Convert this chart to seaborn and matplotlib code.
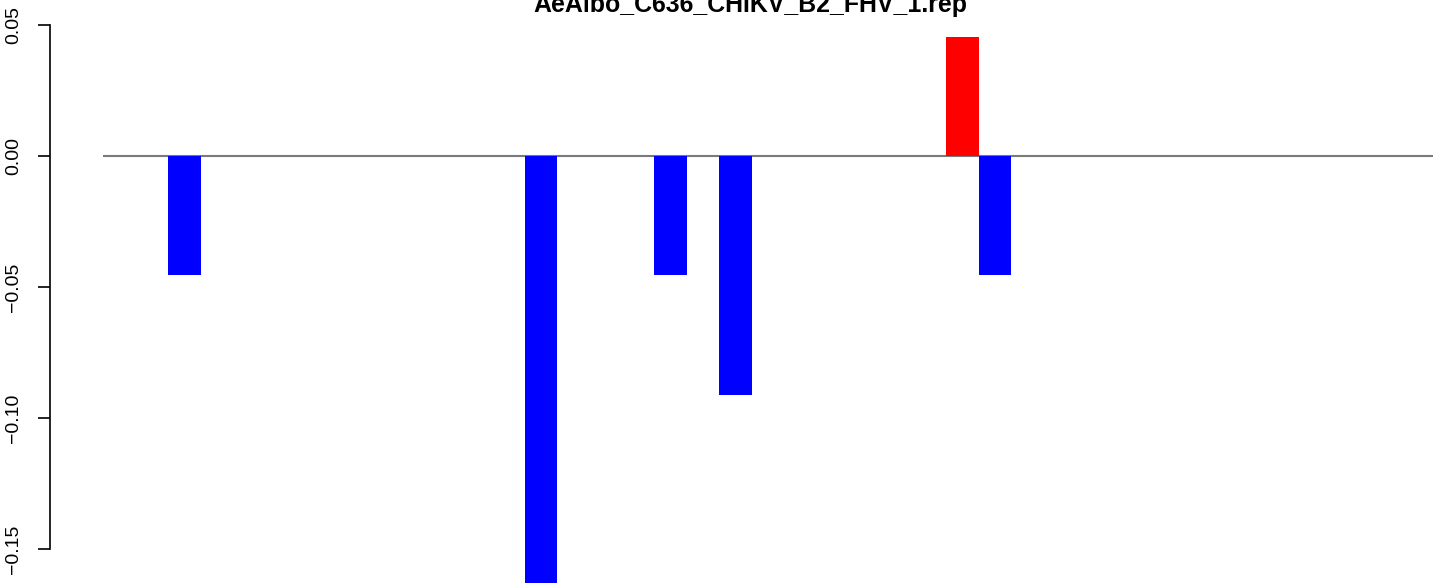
import numpy as np
import pandas as pd
import matplotlib
matplotlib.use("Agg")
import matplotlib.pyplot as plt
import seaborn as sns

# bar slots (R barplot, space=0) and their values
slots = list(range(1, 42))
nonzero = {3: -0.0455, 14: -0.1818, 18: -0.0455, 20: -0.0912, 27: 0.0455, 28: -0.0455}
values = [nonzero.get(s, 0.0) for s in slots]
title = "AeAlbo_C636_CHIKV_B2_FHV_1.rep"
yticks = [0.05, 0.00, -0.05, -0.10, -0.15]

df = pd.DataFrame({"slot": slots, "value": values})
df["sign"] = np.where(df["value"] > 0, "pos", "neg")

sns.set_style("white")
plt.rcParams["font.family"] = ["Liberation Sans", "DejaVu Sans"]

fig = plt.figure(figsize=(14.44, 5.83), dpi=100)
ax = fig.add_axes([50 / 1444, 0, 1 - 50 / 1444, 1])

# zero reference line under the bars
ax.hlines(0, -0.5, len(slots) - 0.5, color="#7a7a7a", lw=1.5, zorder=0)

sns.barplot(data=df, x="slot", y="value", hue="sign",
            palette={"pos": "#FF0000", "neg": "#0000FF"},
            dodge=False, width=1, saturation=1, errorbar=None,
            legend=False, ax=ax, zorder=2, linewidth=0, edgecolor="none")

ax.set_xlim(-2.144, 40.85)
ax.set_ylim(-0.16299, 0.05965)

ax.set_xlabel("")
ax.set_ylabel("")
ax.set_xticks([])
ax.set_yticks(yticks)
ax.set_yticklabels([f"{t:.2f}".replace("-", "\u2212") for t in yticks],
                   rotation=90, va="center", fontsize=14, color="black")
ax.tick_params(axis="y", length=9, width=1.2, pad=11, color="black", left=True)

for s in ["top", "right", "bottom"]:
    ax.spines[s].set_visible(False)
ax.spines["left"].set_bounds(-0.15, 0.05)
ax.spines["left"].set_linewidth(1.2)
ax.spines["left"].set_color("black")

fig.text(750 / 1444, 1 - 12 / 583, title, ha="center", va="baseline",
         fontsize=17.9, fontweight="bold", color="black")

fig.savefig("out.png", dpi=100)
